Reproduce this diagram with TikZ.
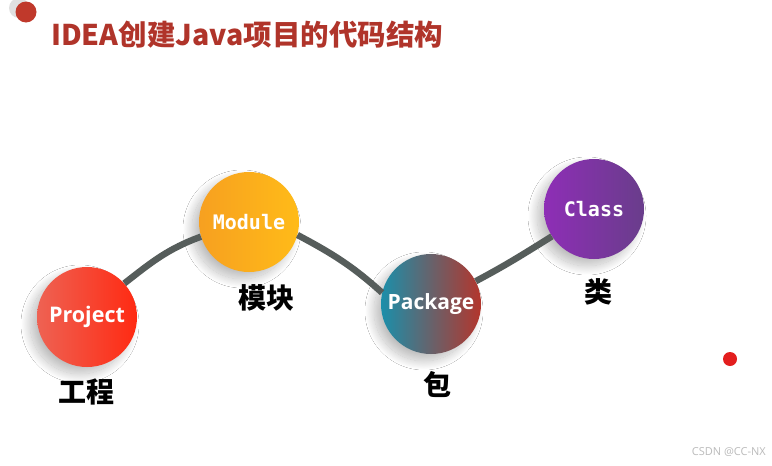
\documentclass[tikz,border=0pt]{standalone}
\usepackage{fontspec}
\setmainfont{Open Sans}
\newfontfamily\cjk{Noto Sans CJK SC}
\newfontfamily\monof{DejaVu Sans Mono}
\newfontfamily\sansf{Open Sans}
\usetikzlibrary{shadows.blur}
\definecolor{titc}{HTML}{B0342A}
\definecolor{connc}{HTML}{565D5B}
\definecolor{projL}{HTML}{EE6253}
\definecolor{projR}{HTML}{FF2A12}
\definecolor{modL}{HTML}{F7A020}
\definecolor{modR}{HTML}{FFBB18}
\definecolor{pkgL}{HTML}{1B8FAA}
\definecolor{pkgM}{HTML}{E86A5E}
\definecolor{pkgR}{HTML}{B4352C}
\definecolor{clsL}{HTML}{8E2EB6}
\definecolor{clsR}{HTML}{693D8B}
\definecolor{dotc}{HTML}{C0392B}
\definecolor{dot2}{HTML}{E31E1E}
\definecolor{wm}{HTML}{BBBBBB}
\begin{document}
\begin{tikzpicture}[x=1pt,y=1pt,
  ball/.style={circle,minimum size=100pt,inner sep=0pt,text=white,
    blur shadow={shadow xshift=-7pt,shadow yshift=-7pt,shadow blur radius=9pt,shadow blur steps=25,shadow opacity=26}},
  conn/.style={line width=6.5pt,draw=connc},
  lab/.style={font=\cjk\bfseries\fontsize{28}{30}\selectfont,text=black,inner sep=0pt},
  sansb/.style={font=\sansf\bfseries\fontsize{21.5}{24}\selectfont},
  monob/.style={font=\monof\bfseries\fontsize{20}{24}\selectfont}]
\useasboundingbox (0,0) rectangle (772,-466);
\fill[white] (0,0) rectangle (772,-466);
% top-left dot
\fill[black!12] (19,-8) circle (10);
\fill[dotc] (26,-12) circle (10.5);
\node[anchor=west,text=titc,font=\cjk\bfseries\fontsize{28.5}{32}\selectfont,inner sep=0pt] (title) at (51,-35) {IDEA创建Java项目的代码结构};
% balls
\node[ball,sansb,left color=projL,right color=projR] (p) at (87,-317) {Project};
\node[ball,monob,left color=modL,right color=modR] (m) at (249,-222) {Module};
\node[ball,sansb,font=\sansf\bfseries\fontsize{21}{24}\selectfont,left color=pkgL,middle color=pkgM,right color=pkgR] (k) at (431,-304) {Package};
\node[ball,monob,left color=clsL,right color=clsR] (c) at (594,-209) {Class};
% connectors
\draw[conn] (p.42) to[out=38,in=200] (m.197);
\draw[conn] (m.-15) to[out=-28,in=138] (k.167);
\draw[conn] (k.27) to[out=28,in=212] (c.213);
% labels
\node[lab] (lp) at (86,-392) {工程};
\node[lab] (lm) at (266,-298) {模块};
\node[lab] (lk) at (437,-385) {包};
\node[lab] (lc) at (598,-292) {类};
% right dot
\fill[dot2] (730,-359) circle (7);
\node[anchor=east,text=wm,font=\sansf\fontsize{11}{13}\selectfont,inner sep=0pt] (wmk) at (766,-452) {CSDN @CC-NX};
\end{tikzpicture}
\end{document}
